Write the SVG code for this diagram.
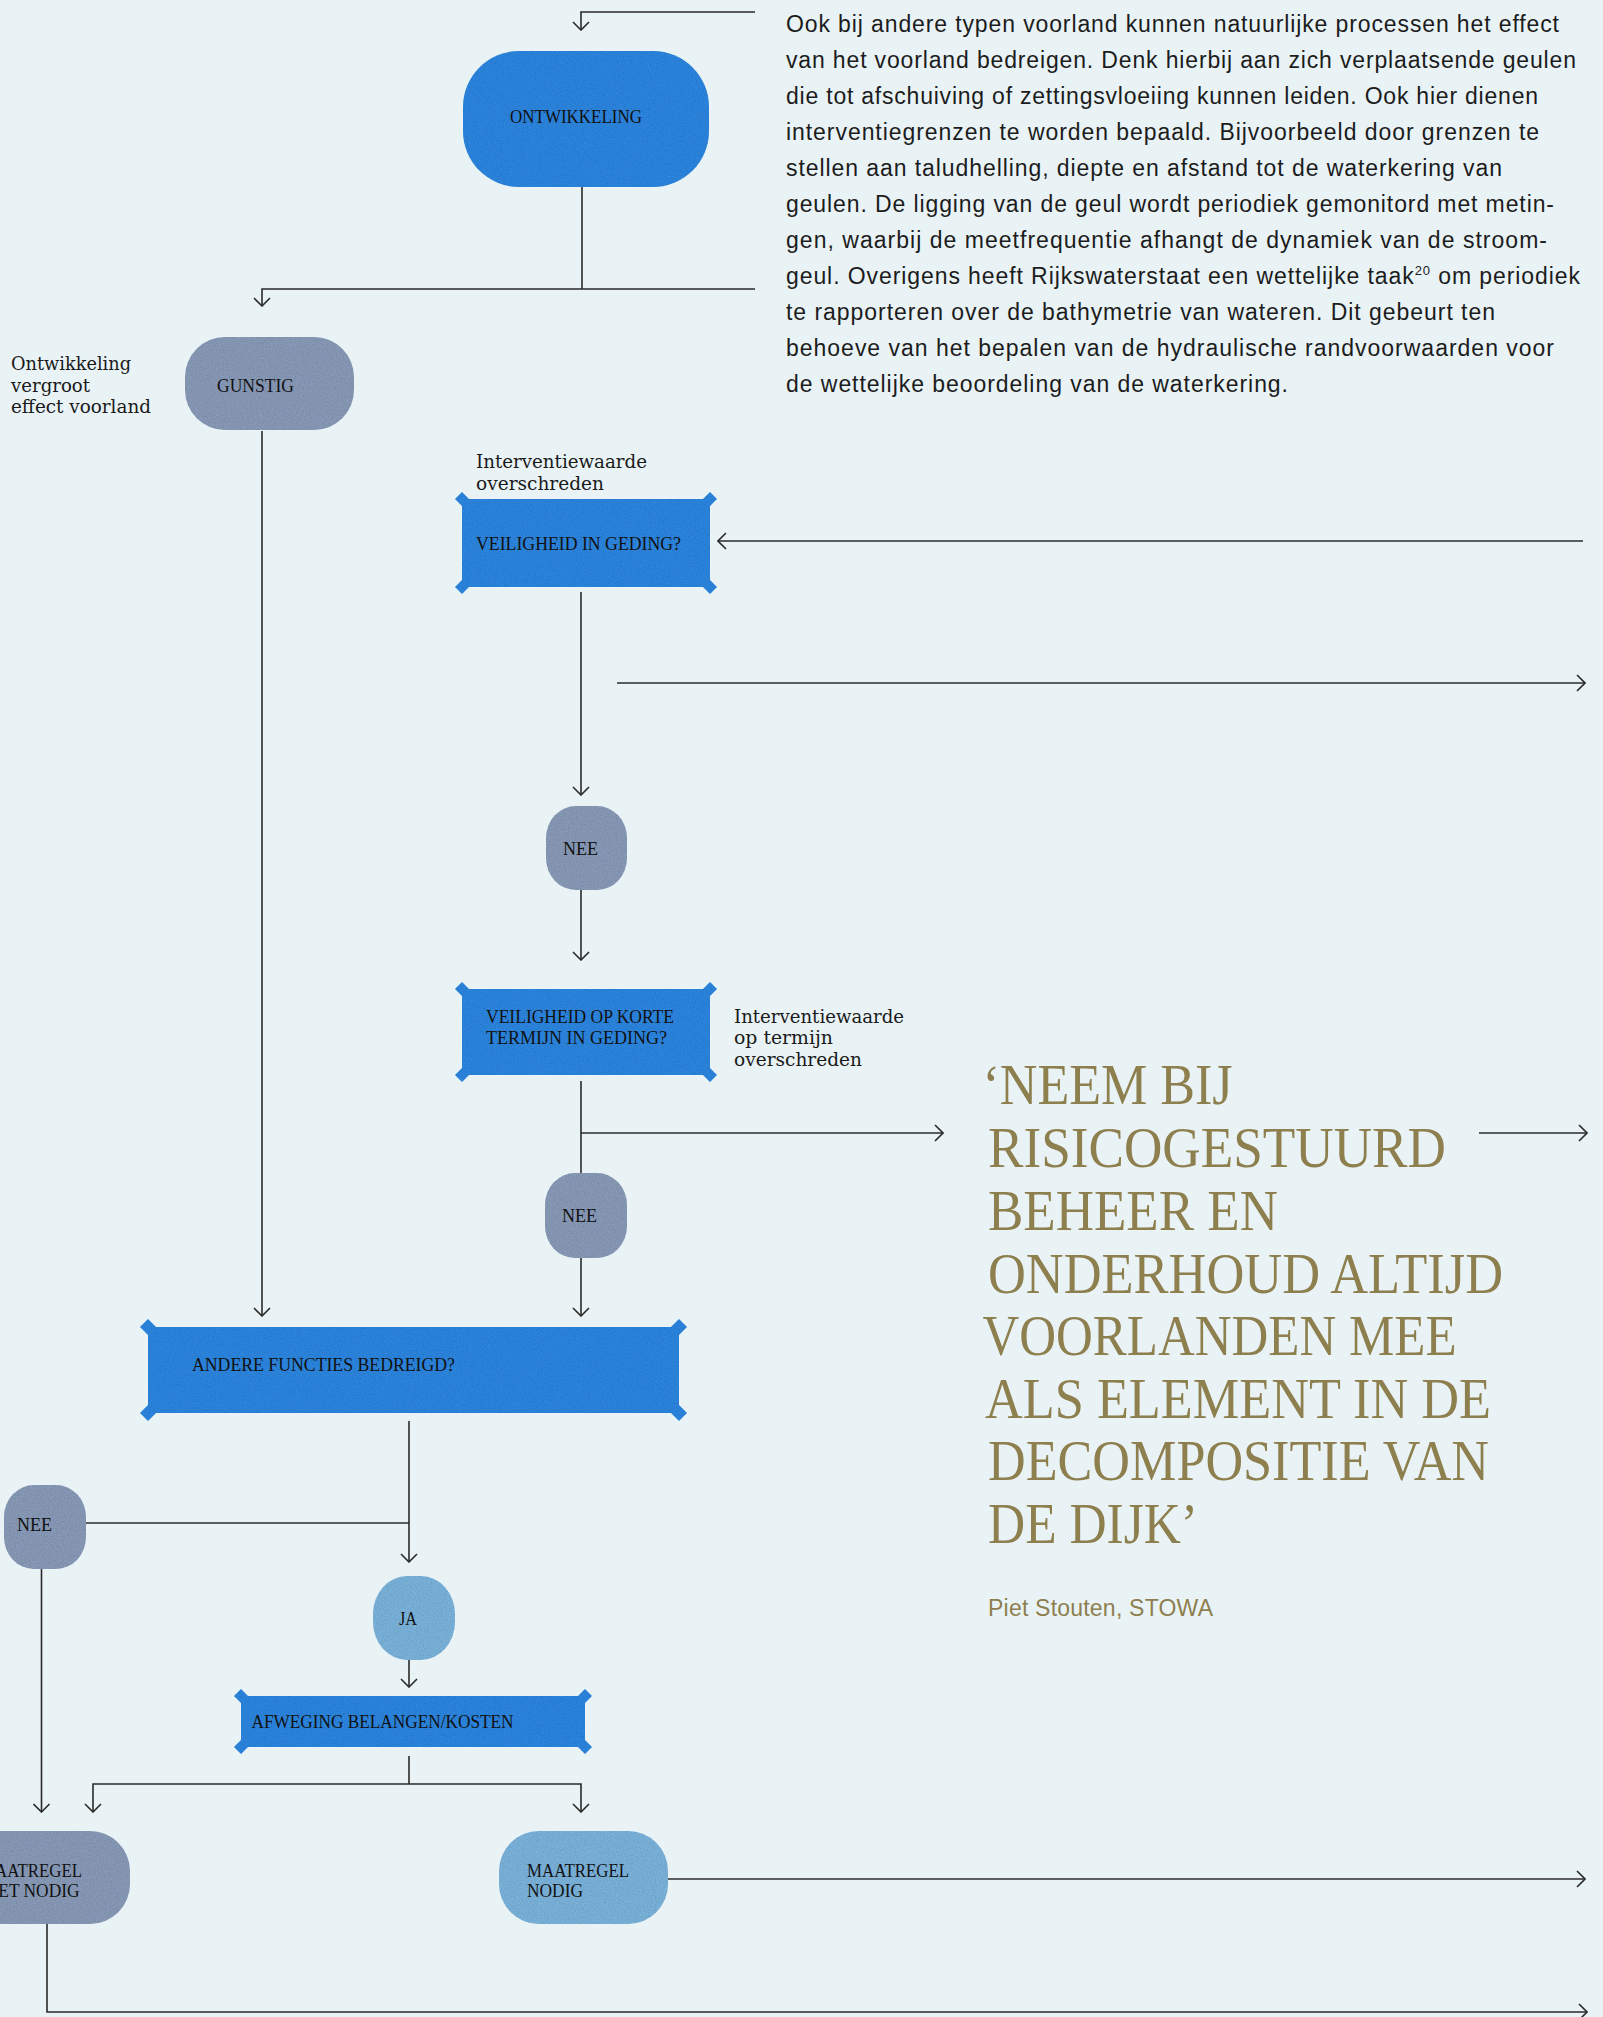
<svg xmlns="http://www.w3.org/2000/svg" width="1603" height="2017" viewBox="0 0 1603 2017">
<defs>
<style>
.bg{fill:#e9f3f6}
.blue{fill:#2e87e2}
.grey{fill:#8a9cba}
.light{fill:#7db5de}
.lbl{font-family:"Liberation Serif","Times New Roman",serif;font-size:18px;fill:#111}
.note{font-family:"DejaVu Serif",serif;font-size:18px;fill:#1a1a1a}
.body{font-family:"Liberation Sans",Arial,sans-serif;font-size:23px;fill:#1c1c1c}
.quote{font-family:"Liberation Serif","Times New Roman",serif;font-size:57px;fill:#8e7f4f}
.cite{font-family:"Liberation Sans",Arial,sans-serif;font-size:23px;fill:#8e7f4f}
.con{fill:none;stroke:#2a2a2a;stroke-width:1.6}
</style>
<marker id="arr" viewBox="0 0 10 18" refX="9" refY="9" markerWidth="10" markerHeight="18" markerUnits="userSpaceOnUse" orient="auto">
<path d="M1,1 L9,9 L1,17" fill="none" stroke="#2a2a2a" stroke-width="1.6"/>
</marker>
<filter id="grain" x="-5%" y="-5%" width="110%" height="110%">
<feTurbulence type="fractalNoise" baseFrequency="0.85" numOctaves="2" seed="4" result="n"/>
<feColorMatrix in="n" type="matrix" values="0 0 0 0 0  0 0 0 0 0  0 0 0 0 0  0.45 0 0 0 -0.12" result="d"/>
<feComposite in="d" in2="SourceAlpha" operator="in" result="dn"/>
<feMerge><feMergeNode in="SourceGraphic"/><feMergeNode in="dn"/></feMerge>
</filter>
</defs>
<rect class="bg" x="0" y="0" width="1603" height="2017"/>

<g id="connectors">
<path class="con" d="M755,12 H581 V30" marker-end="url(#arr)"/>
<path class="con" d="M582,187 V289"/>
<path class="con" d="M755,289 H262 V306" marker-end="url(#arr)"/>
<path class="con" d="M262,431 V1316" marker-end="url(#arr)"/>
<path class="con" d="M1583,541 H718" marker-end="url(#arr)"/>
<path class="con" d="M581,592 V795" marker-end="url(#arr)"/>
<path class="con" d="M617,683 H1585" marker-end="url(#arr)"/>
<path class="con" d="M581,890 V960" marker-end="url(#arr)"/>
<path class="con" d="M581,1081 V1173"/>
<path class="con" d="M581,1133 H943" marker-end="url(#arr)"/>
<path class="con" d="M1479,1133 H1587" marker-end="url(#arr)"/>
<path class="con" d="M581,1258 V1316" marker-end="url(#arr)"/>
<path class="con" d="M409,1421 V1562" marker-end="url(#arr)"/>
<path class="con" d="M86,1523 H409"/>
<path class="con" d="M41.5,1569 V1812" marker-end="url(#arr)"/>
<path class="con" d="M409,1660 V1687" marker-end="url(#arr)"/>
<path class="con" d="M409,1756 V1784"/>
<path class="con" d="M409,1784 H93 V1812" marker-end="url(#arr)"/>
<path class="con" d="M409,1784 H581 V1812" marker-end="url(#arr)"/>
<path class="con" d="M668,1879 H1585" marker-end="url(#arr)"/>
<path class="con" d="M47,1924 V2012 H1587" marker-end="url(#arr)"/>
</g>

<g id="n-ontwikkeling">
<rect class="blue" filter="url(#grain)" x="463" y="51" width="246" height="136" rx="56" ry="56"/>
<text class="lbl" x="510" y="123" textLength="132" lengthAdjust="spacingAndGlyphs">ONTWIKKELING</text>
</g>

<g id="n-gunstig">
<rect class="grey" filter="url(#grain)" x="185" y="337" width="169" height="93" rx="40" ry="40"/>
<text class="lbl" x="217" y="392" textLength="77" lengthAdjust="spacingAndGlyphs">GUNSTIG</text>
</g>

<g id="lbl-ontwikkeling-vergroot">
<text class="note" x="11" y="370" textLength="120" lengthAdjust="spacingAndGlyphs">Ontwikkeling</text>
<text class="note" x="11" y="392" textLength="79" lengthAdjust="spacingAndGlyphs">vergroot</text>
<text class="note" x="11" y="413" textLength="140" lengthAdjust="spacingAndGlyphs">effect voorland</text>
</g>

<g id="n-veiligheid">
<g class="blue" filter="url(#grain)">
<rect x="462" y="499" width="248" height="88"/>
<polygon points="455,499 462,492 469,499 462,506"/>
<polygon points="703,499 710,492 717,499 710,506"/>
<polygon points="455,587 462,580 469,587 462,594"/>
<polygon points="703,587 710,580 717,587 710,594"/>
</g>
<text class="lbl" x="476" y="550" textLength="205" lengthAdjust="spacingAndGlyphs">VEILIGHEID IN GEDING?</text>
</g>

<g id="lbl-interventie-1">
<text class="note" x="476" y="468" textLength="171" lengthAdjust="spacingAndGlyphs">Interventiewaarde</text>
<text class="note" x="476" y="490" textLength="128" lengthAdjust="spacingAndGlyphs">overschreden</text>
</g>

<g id="n-nee-1">
<rect class="grey" filter="url(#grain)" x="546" y="806" width="81" height="84" rx="30" ry="32"/>
<text class="lbl" x="563" y="855" textLength="35" lengthAdjust="spacingAndGlyphs">NEE</text>
</g>

<g id="n-veiligheid-kort">
<g class="blue" filter="url(#grain)">
<rect x="462" y="989" width="248" height="86"/>
<polygon points="455,989 462,982 469,989 462,996"/>
<polygon points="703,989 710,982 717,989 710,996"/>
<polygon points="455,1075 462,1068 469,1075 462,1082"/>
<polygon points="703,1075 710,1068 717,1075 710,1082"/>
</g>
<text class="lbl" x="486" y="1023" textLength="188" lengthAdjust="spacingAndGlyphs">VEILIGHEID OP KORTE</text>
<text class="lbl" x="486" y="1044" textLength="181" lengthAdjust="spacingAndGlyphs">TERMIJN IN GEDING?</text>
</g>

<g id="lbl-interventie-2">
<text class="note" x="734" y="1023" textLength="170" lengthAdjust="spacingAndGlyphs">Interventiewaarde</text>
<text class="note" x="734" y="1044" textLength="99" lengthAdjust="spacingAndGlyphs">op termijn</text>
<text class="note" x="734" y="1066" textLength="128" lengthAdjust="spacingAndGlyphs">overschreden</text>
</g>

<g id="n-nee-2">
<rect class="grey" filter="url(#grain)" x="545" y="1173" width="82" height="85" rx="30" ry="32"/>
<text class="lbl" x="562" y="1222" textLength="35" lengthAdjust="spacingAndGlyphs">NEE</text>
</g>

<g id="n-andere">
<g class="blue" filter="url(#grain)">
<rect x="148" y="1327" width="531" height="86"/>
<polygon points="140,1327 148,1319 156,1327 148,1335"/>
<polygon points="671,1327 679,1319 687,1327 679,1335"/>
<polygon points="140,1413 148,1405 156,1413 148,1421"/>
<polygon points="671,1413 679,1405 687,1413 679,1421"/>
</g>
<text class="lbl" x="192" y="1371" textLength="263" lengthAdjust="spacingAndGlyphs">ANDERE FUNCTIES BEDREIGD?</text>
</g>

<g id="n-nee-3">
<rect class="grey" filter="url(#grain)" x="4" y="1485" width="82" height="84" rx="30" ry="32"/>
<text class="lbl" x="17" y="1531" textLength="35" lengthAdjust="spacingAndGlyphs">NEE</text>
</g>

<g id="n-ja">
<rect class="light" filter="url(#grain)" x="373" y="1576" width="82" height="84" rx="34" ry="38"/>
<text class="lbl" x="399" y="1625" textLength="18" lengthAdjust="spacingAndGlyphs">JA</text>
</g>

<g id="n-afweging">
<g class="blue" filter="url(#grain)">
<rect x="241" y="1696" width="344" height="51"/>
<polygon points="234,1696 241,1689 248,1696 241,1703"/>
<polygon points="578,1696 585,1689 592,1696 585,1703"/>
<polygon points="234,1747 241,1740 248,1747 241,1754"/>
<polygon points="578,1747 585,1740 592,1747 585,1754"/>
</g>
<text class="lbl" x="251.5" y="1728" textLength="262" lengthAdjust="spacingAndGlyphs">AFWEGING BELANGEN/KOSTEN</text>
</g>

<g id="n-maatregel-niet-nodig">
<rect class="grey" filter="url(#grain)" x="-45" y="1831" width="175" height="93" rx="40" ry="40"/>
<text class="lbl" x="-20" y="1877" textLength="102" lengthAdjust="spacingAndGlyphs">MAATREGEL</text>
<text class="lbl" x="-20" y="1897" textLength="99.5" lengthAdjust="spacingAndGlyphs">NIET NODIG</text>
</g>

<g id="n-maatregel-nodig">
<rect class="light" filter="url(#grain)" x="499" y="1831" width="169" height="93" rx="40" ry="40"/>
<text class="lbl" x="527" y="1877" textLength="102" lengthAdjust="spacingAndGlyphs">MAATREGEL</text>
<text class="lbl" x="527" y="1897" textLength="56" lengthAdjust="spacingAndGlyphs">NODIG</text>
</g>

<g id="bodytext">
<text class="body" x="786" y="32" textLength="773">Ook bij andere typen voorland kunnen natuurlijke processen het effect</text>
<text class="body" x="786" y="68" textLength="790">van het voorland bedreigen. Denk hierbij aan zich verplaatsende geulen</text>
<text class="body" x="786" y="104" textLength="752">die tot afschuiving of zettingsvloeiing kunnen leiden. Ook hier dienen</text>
<text class="body" x="786" y="140" textLength="753">interventiegrenzen te worden bepaald. Bijvoorbeeld door grenzen te</text>
<text class="body" x="786" y="176" textLength="716">stellen aan taludhelling, diepte en afstand tot de waterkering van</text>
<text class="body" x="786" y="212" textLength="768">geulen. De ligging van de geul wordt periodiek gemonitord met metin-</text>
<text class="body" x="786" y="248" textLength="761">gen, waarbij de meetfrequentie afhangt de dynamiek van de stroom-</text>
<text class="body" x="786" y="284" textLength="794">geul. Overigens heeft Rijkswaterstaat een wettelijke taak<tspan font-size="13" dy="-9">20</tspan><tspan dy="9"> om periodiek</tspan></text>
<text class="body" x="786" y="320" textLength="709">te rapporteren over de bathymetrie van wateren. Dit gebeurt ten</text>
<text class="body" x="786" y="356" textLength="768">behoeve van het bepalen van de hydraulische randvoorwaarden voor</text>
<text class="body" x="786" y="392" textLength="502">de wettelijke beoordeling van de waterkering.</text>
</g>

<g id="quote">
<text class="quote" x="982.5" y="1104" textLength="250" lengthAdjust="spacingAndGlyphs">‘NEEM BIJ</text>
<text class="quote" x="988" y="1167" textLength="458" lengthAdjust="spacingAndGlyphs">RISICOGESTUURD</text>
<text class="quote" x="988" y="1230" textLength="290" lengthAdjust="spacingAndGlyphs">BEHEER EN</text>
<text class="quote" x="988" y="1293" textLength="515" lengthAdjust="spacingAndGlyphs">ONDERHOUD ALTIJD</text>
<text class="quote" x="982.5" y="1355" textLength="474" lengthAdjust="spacingAndGlyphs">VOORLANDEN MEE</text>
<text class="quote" x="985" y="1418" textLength="506" lengthAdjust="spacingAndGlyphs">ALS ELEMENT IN DE</text>
<text class="quote" x="988" y="1480" textLength="501" lengthAdjust="spacingAndGlyphs">DECOMPOSITIE VAN</text>
<text class="quote" x="988" y="1543" textLength="210" lengthAdjust="spacingAndGlyphs">DE DIJK’</text>
<text class="cite" x="988" y="1616" textLength="225">Piet Stouten, STOWA</text>
</g>
</svg>
